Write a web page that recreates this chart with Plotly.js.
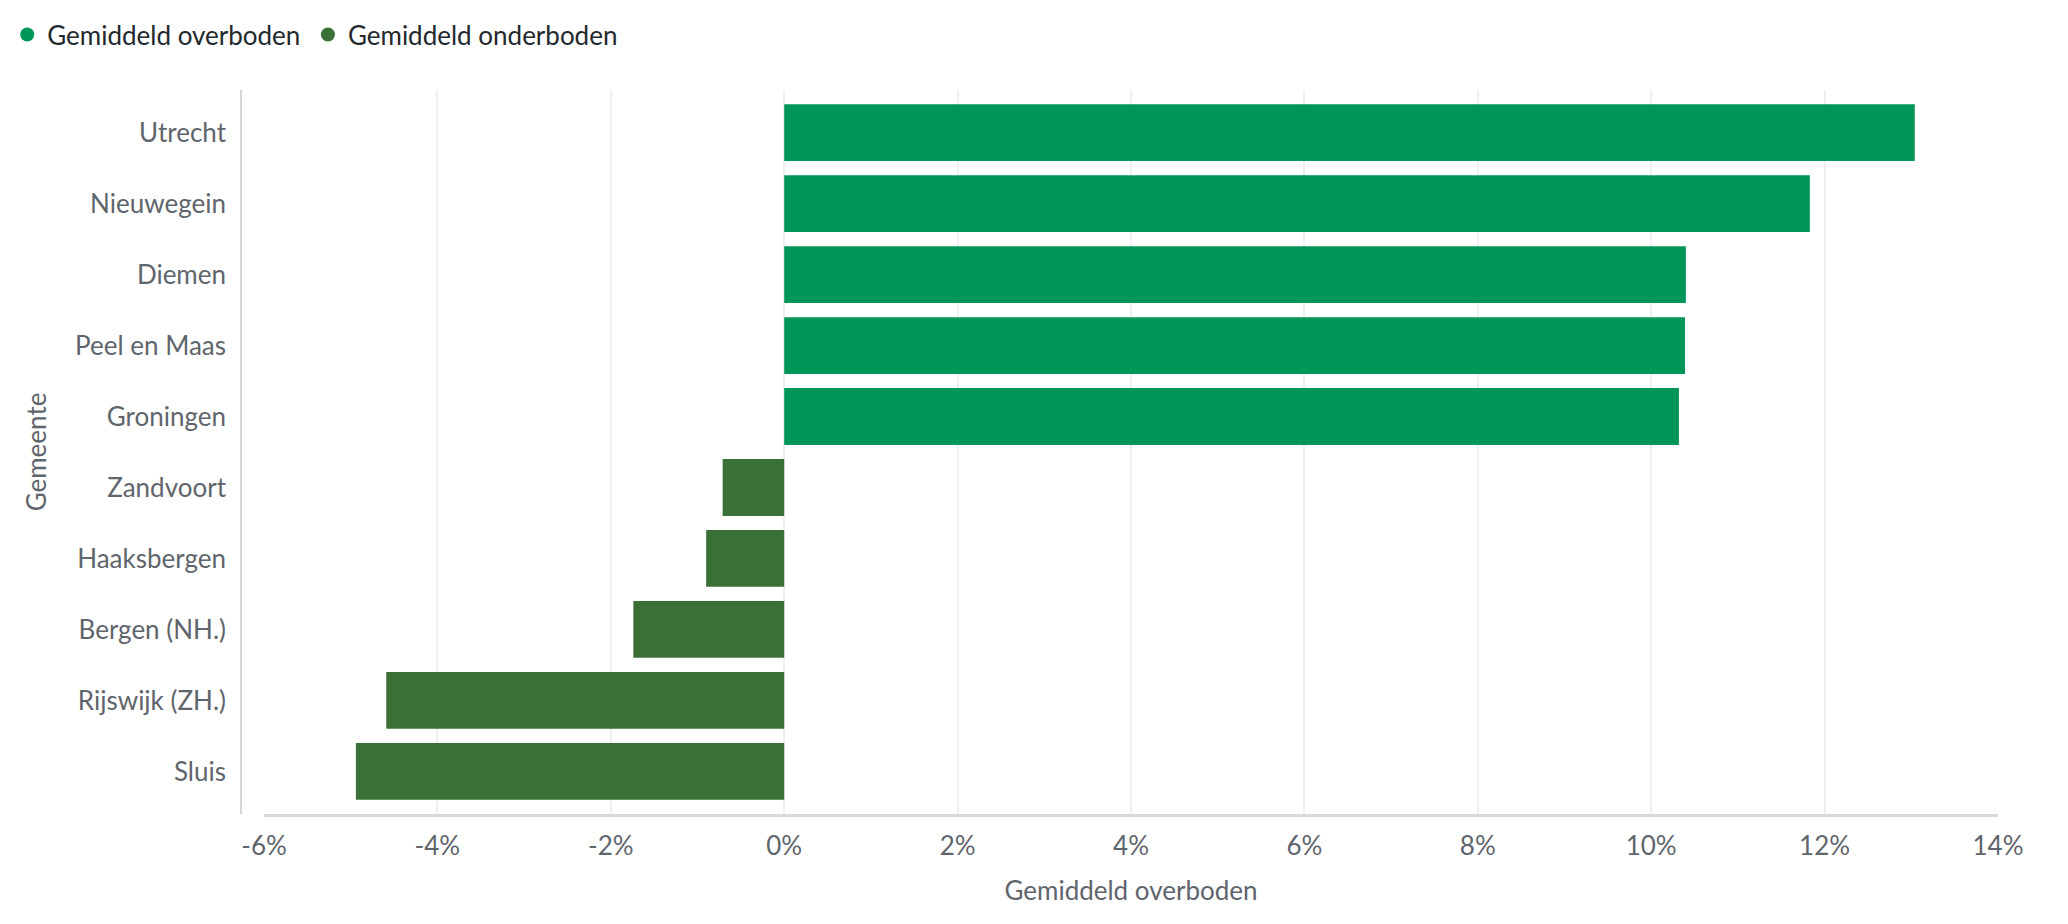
<!DOCTYPE html>
<html><head><meta charset="utf-8">
<script src="https://cdn.plot.ly/plotly-3.0.1.min.js"></script>
<style>html,body{margin:0;padding:0;background:#fff}#chart{width:2068px;height:924px}</style>
</head><body><div id="chart"></div>
<script>
const categories = ['Utrecht','Nieuwegein','Diemen','Peel en Maas','Groningen','Zandvoort','Haaksbergen','Bergen (NH.)','Rijswijk (ZH.)','Sluis'];
const overCategories = ['Utrecht','Nieuwegein','Diemen','Peel en Maas','Groningen'];
const overValues = [13.04, 11.83, 10.40, 10.39, 10.32];
const underCategories = ['Zandvoort','Haaksbergen','Bergen (NH.)','Rijswijk (ZH.)','Sluis'];
const underValues = [-0.71, -0.90, -1.74, -4.59, -4.94];
const xTickValues = [-6,-4,-2,0,2,4,6,8,10,12,14];
const xTickLabels = ['-6%','-4%','-2%','0%','2%','4%','6%','8%','10%','12%','14%'];
const seriesNames = ['Gemiddeld overboden','Gemiddeld onderboden'];
const colors = ['#00965a','#3a7036'];

const FONT = 'Lato, "Open Sans", sans-serif';
const FS = 26;
const tickColor = '#5f656c';
const legendColor = '#23282d';

const traces = [
  {type:'bar', orientation:'h', x: overValues, y: overCategories, name: seriesNames[0],
   marker:{color: colors[0]}, showlegend:false, hoverinfo:'x+y'},
  {type:'bar', orientation:'h', x: underValues, y: underCategories, name: seriesNames[1],
   marker:{color: colors[1]}, showlegend:false, hoverinfo:'x+y'},
  {type:'scatter', mode:'markers', x:[null], y:[null], name: seriesNames[0], legend:'legend',
   marker:{color: colors[0], size:14, symbol:'circle'}, showlegend:true},
  {type:'scatter', mode:'markers', x:[null], y:[null], name: seriesNames[1], legend:'legend2',
   marker:{color: colors[1], size:14, symbol:'circle'}, showlegend:true}
];

const legendBase = {orientation:'h', xref:'container', yref:'container', y:0.988,
          xanchor:'left', yanchor:'top', font:{family:FONT, size:FS, color:legendColor},
          itemclick:false, bgcolor:'rgba(0,0,0,0)'};

const layout = {
  width:2068, height:924,
  margin:{l:264, r:70, t:90, b:110, pad:0},
  paper_bgcolor:'#fff', plot_bgcolor:'#fff',
  font:{family: FONT, size:FS, color: tickColor},
  barmode:'relative', bargap:0.2,
  showlegend:true,
  legend: Object.assign({}, legendBase, {x:0.0035}),
  legend2: Object.assign({}, legendBase, {x:0.1489}),
  xaxis:{range:[-6,14], tickvals:xTickValues, ticktext:xTickLabels, showgrid:true,
         gridcolor:'#efefef', gridwidth:2, zeroline:false, showline:true, linecolor:'#d9d9d9',
         linewidth:3, ticks:'', ticklabelstandoff:7, automargin:false,
         tickfont:{family:FONT, size:FS, color:tickColor},
         title:{text:'Gemiddeld overboden', standoff:22, font:{family:FONT, size:FS, color:tickColor}}},
  yaxis:{type:'category', categoryorder:'array', categoryarray:categories, range:[9.6,-0.6],
         showgrid:false, zeroline:false, showline:false, ticks:'', ticklabelstandoff:37, automargin:false,
         tickfont:{family:FONT, size:FS, color:tickColor},
         title:{text:'Gemeente', standoff:20, font:{family:FONT, size:FS, color:tickColor}}},
  shapes:[{type:'line', xref:'paper', yref:'paper', x0:-23/1734, x1:-23/1734, y0:0, y1:1,
           line:{color:'#d6d6d6', width:2}}]
};

Plotly.newPlot('chart', traces, layout, {displayModeBar:false, staticPlot:true});
</script>
</body></html>
